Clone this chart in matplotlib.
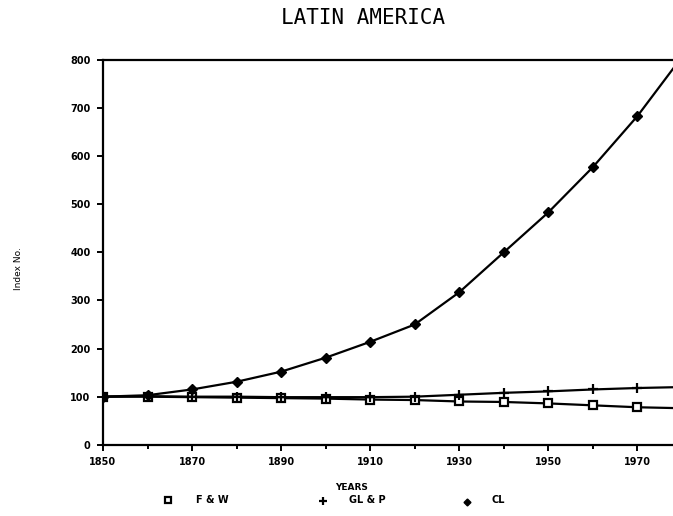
import numpy as np
import matplotlib.pyplot as plt

years = [1850, 1860, 1870, 1880, 1890, 1900, 1910, 1920, 1930, 1940, 1950, 1960, 1970, 1980]
fw = [100, 100, 99, 98, 97, 96, 94, 93, 90, 89, 86, 82, 78, 76]
glp = [100, 101, 100, 100, 99, 99, 99, 100, 104, 108, 111, 115, 118, 120]
cl = [100, 103, 115, 131, 152, 181, 214, 250, 317, 400, 483, 577, 683, 806]

fig = plt.figure(figsize=(6.73, 5.16), dpi=100)
ax = fig.add_axes([0.153, 0.138, 0.847, 0.746])

ax.plot(years, fw, '-', color='black', lw=1.6, marker='s', ms=5.5,
        mfc='white', mec='black', mew=1.6)
ax.plot(years, glp, '-', color='black', lw=1.6, marker='+', ms=7, mew=1.6)
ax.plot(years, cl, '-', color='black', lw=1.6, marker='D', ms=5, mfc='black')

ax.set_xlim(1850, 1978)
ax.set_ylim(0, 800)
ax.set_xticks(range(1850, 1971, 20))
ax.set_xticks(range(1860, 1971, 20), minor=True)
ax.set_yticks(range(0, 801, 100))

for s in ['left', 'bottom', 'top']:
    ax.spines[s].set_linewidth(1.6)
ax.spines['right'].set_visible(False)

tick_font = dict(family='DejaVu Sans', weight='bold', size=7)
ax.set_xticklabels([str(y) for y in range(1850, 1971, 20)], fontdict=tick_font)
ax.set_yticklabels([str(v) for v in range(0, 801, 100)], fontdict=tick_font)
ax.tick_params(which='both', direction='out', width=1.4, length=4, pad=5)
ax.tick_params(which='minor', length=3)

fig.text(0.54, 0.965, "LATIN AMERICA", ha='center', va='center',
         family='DejaVu Sans Mono', fontsize=15)
fig.text(0.028, 0.48, "Index No.", rotation=90, ha='center', va='center',
         fontsize=6.5)
fig.text(0.523, 0.056, "YEARS", ha='center', va='center',
         weight='bold', fontsize=6.5)

# legend row under the axis
leg = fig.add_axes([0, 0, 1, 1], facecolor='none')
leg.set_xlim(0, 673)
leg.set_ylim(516, 0)
leg.axis('off')
leg.plot([168], [500], 's', ms=5, mfc='white', mec='black', mew=1.6)
leg.plot([323], [501], '+', ms=6, color='black', mew=1.6)
leg.plot([467], [502], 'D', ms=3.5, color='black')
for x, t in [(196, "F & W"), (349, "GL & P"), (491, "CL")]:
    leg.text(x, 500, t, ha='left', va='center', weight='bold', fontsize=7)

fig.savefig("out.png", dpi=100)
